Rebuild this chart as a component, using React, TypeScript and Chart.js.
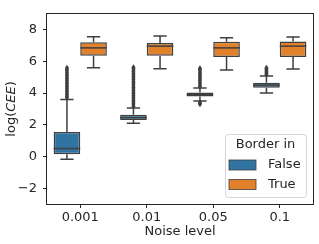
import React, { useEffect, useRef } from 'react';
import { Chart, registerables } from 'chart.js';

Chart.register(...registerables);

const categories = ['0.001', '0.01', '0.05', '0.1'];
const seriesNames = ['False', 'True'];
const seriesColors = ['#3274a1', '#e1812c'];

const falseLow = [-0.17, 2.1, 3.5, 4.0];
const falseQ1 = [0.14, 2.3, 3.78, 4.34];
const falseMedian = [0.5, 2.45, 3.9, 4.5];
const falseQ3 = [1.55, 2.63, 4.03, 4.65];
const falseHigh = [3.6, 3.05, 4.32, 5.08];
const falseOutliers = [
  [3.7, 3.8, 3.9, 4.0, 4.1, 4.2, 4.3, 4.4, 4.5, 4.6, 4.7, 4.8, 4.9, 5.0, 5.1, 5.2, 5.3, 5.4, 5.5, 5.6],
  [3.15, 3.25, 3.35, 3.45, 3.55, 3.65, 3.75, 3.85, 3.95, 4.05, 4.15, 4.25, 4.35, 4.45, 4.55, 4.65, 4.75, 4.85, 4.95, 5.05, 5.15, 5.25, 5.35, 5.45, 5.55, 5.62],
  [3.3, 3.35, 3.42, 4.4, 4.5, 4.6, 4.7, 4.8, 4.9, 5.0, 5.1, 5.2, 5.3, 5.4, 5.5, 5.56],
  [5.15, 5.22, 5.3, 5.38, 5.45, 5.52, 5.6],
];

const trueLow = [5.6, 5.53, 5.46, 5.52];
const trueQ1 = [6.36, 6.36, 6.27, 6.27];
const trueMedian = [6.85, 6.96, 6.85, 6.96];
const trueQ3 = [7.2, 7.16, 7.23, 7.25];
const trueHigh = [7.55, 7.6, 7.49, 7.53];
const trueOutliers: number[][] = [[], [], [], []];

const yTicks = [-2, 0, 2, 4, 6, 8];
const yMin = -3;
const yMax = 9;

const FONT = "'DejaVu Sans', sans-serif";
const TEXT = '#262626';
const EDGE = '#3f3f3f';

const stats = [
  { low: falseLow, q1: falseQ1, med: falseMedian, q3: falseQ3, high: falseHigh, out: falseOutliers },
  { low: trueLow, q1: trueQ1, med: trueMedian, q3: trueQ3, high: trueHigh, out: trueOutliers },
];

const boxPlugin = {
  id: 'boxExtras',
  beforeDatasetsDraw(chart: any) {
    const ctx = chart.ctx;
    const y = chart.scales.y;
    ctx.save();
    ctx.strokeStyle = EDGE;
    ctx.lineWidth = 1.5;
    stats.forEach((s, di) => {
      const meta = chart.getDatasetMeta(di);
      meta.data.forEach((el: any, i: number) => {
        const { x, width } = el.getProps(['x', 'width'], true);
        const half = width / 4;
        const yq1 = y.getPixelForValue(s.q1[i]);
        const yq3 = y.getPixelForValue(s.q3[i]);
        const yl = y.getPixelForValue(s.low[i]);
        const yh = y.getPixelForValue(s.high[i]);
        ctx.beginPath();
        ctx.moveTo(x, yq3);
        ctx.lineTo(x, yh);
        ctx.moveTo(x - half, yh);
        ctx.lineTo(x + half, yh);
        ctx.moveTo(x, yq1);
        ctx.lineTo(x, yl);
        ctx.moveTo(x - half, yl);
        ctx.lineTo(x + half, yl);
        ctx.stroke();
      });
    });
    ctx.restore();
  },
  afterDatasetsDraw(chart: any) {
    const ctx = chart.ctx;
    const y = chart.scales.y;
    ctx.save();
    stats.forEach((s, di) => {
      const meta = chart.getDatasetMeta(di);
      meta.data.forEach((el: any, i: number) => {
        const { x, width } = el.getProps(['x', 'width'], true);
        const ym = y.getPixelForValue(s.med[i]);
        ctx.strokeStyle = EDGE;
        ctx.lineWidth = 1.5;
        ctx.beginPath();
        ctx.moveTo(x - width / 2, ym);
        ctx.lineTo(x + width / 2, ym);
        ctx.stroke();
        ctx.fillStyle = EDGE;
        s.out[i].forEach((v) => {
          const py = y.getPixelForValue(v);
          ctx.beginPath();
          ctx.moveTo(x, py - 3);
          ctx.lineTo(x + 2, py);
          ctx.lineTo(x, py + 3);
          ctx.lineTo(x - 2, py);
          ctx.closePath();
          ctx.fill();
        });
      });
    });
    ctx.restore();
  },
  afterDraw(chart: any) {
    const ctx = chart.ctx;
    const a = chart.chartArea;
    ctx.save();
    // frame
    ctx.strokeStyle = TEXT;
    ctx.lineWidth = 1;
    ctx.strokeRect(Math.round(a.left) - 0.5, Math.round(a.top) - 0.5, Math.round(a.right - a.left) + 1, Math.round(a.bottom - a.top) + 1);

    // y title: log(CEE) with italic CEE
    ctx.translate(12, (a.top + a.bottom) / 2);
    ctx.rotate(-Math.PI / 2);
    ctx.fillStyle = TEXT;
    ctx.textBaseline = 'middle';
    ctx.textAlign = 'left';
    const parts = [
      { t: 'log(', f: `13px ${FONT}` },
      { t: 'CEE', f: `italic 13px ${FONT}` },
      { t: ')', f: `13px ${FONT}` },
    ];
    let total = 0;
    parts.forEach((p) => { ctx.font = p.f; total += ctx.measureText(p.t).width; });
    let cx = -total / 2;
    parts.forEach((p) => { ctx.font = p.f; ctx.fillText(p.t, cx, 0); cx += ctx.measureText(p.t).width; });
    ctx.restore();

    // legend
    ctx.save();
    const lw = 81, lh = 63;
    const lx = a.right - 7 - lw;
    const ly = a.bottom - 7 - lh;
    ctx.beginPath();
    (ctx as any).roundRect(lx + 0.5, ly + 0.5, lw, lh, 3);
    ctx.fillStyle = 'rgba(255,255,255,0.85)';
    ctx.fill();
    ctx.strokeStyle = '#d6d6d6';
    ctx.lineWidth = 1;
    ctx.stroke();
    ctx.fillStyle = TEXT;
    ctx.font = `13px ${FONT}`;
    ctx.textBaseline = 'middle';
    ctx.textAlign = 'center';
    ctx.fillText('Border in', lx + lw / 2, ly + 11);
    ctx.textAlign = 'left';
    seriesNames.forEach((name, i) => {
      const cy = ly + 31 + i * 19.5;
      ctx.fillStyle = seriesColors[i];
      ctx.fillRect(lx + 4, cy - 5, 27, 10);
      ctx.strokeStyle = EDGE;
      ctx.lineWidth = 0.8;
      ctx.strokeRect(lx + 4, cy - 5, 27, 10);
      ctx.fillStyle = TEXT;
      ctx.fillText(name, lx + 43, cy);
    });
    ctx.restore();
  },
};

export default function App() {
  const ref = useRef<HTMLCanvasElement | null>(null);
  useEffect(() => {
    if (!ref.current) return;
    const chart = new Chart(ref.current, {
      type: 'bar',
      data: {
        labels: categories,
        datasets: stats.map((s, di) => ({
          label: seriesNames[di],
          data: s.q1.map((q, i) => [q, s.q3[i]]),
          backgroundColor: seriesColors[di],
          borderColor: EDGE,
          borderWidth: 1.5,
          borderSkipped: false,
          categoryPercentage: 0.8,
          barPercentage: 1,
        })),
      },
      options: {
        responsive: false,
        animation: false,
        layout: { padding: { left: 0, top: 5, right: 6, bottom: 0 } },
        plugins: { legend: { display: false }, tooltip: { enabled: false } },
        scales: {
          x: {
            offset: true,
            grid: { display: true, drawOnChartArea: false, drawTicks: true, tickLength: 4, color: TEXT, offset: false },
            border: { display: false },
            ticks: { color: TEXT, font: { family: FONT, size: 13 }, padding: 2, maxRotation: 0 },
            title: { display: true, text: 'Noise level', color: TEXT, font: { family: FONT, size: 13 }, padding: { top: 0, bottom: 5 } },
            afterFit: (s: any) => { s.height = 40; },
          },
          y: {
            min: yMin,
            max: yMax,
            grid: { display: true, drawOnChartArea: false, drawTicks: true, tickLength: 4, color: TEXT },
            border: { display: false },
            ticks: {
              color: TEXT,
              font: { family: FONT, size: 13 },
              padding: 6,
              callback: (v: any) => (Number(v) < 0 ? '\u2212' + Math.abs(Number(v)) : String(v)),
            },
            afterBuildTicks: (s: any) => { s.ticks = yTicks.map((v) => ({ value: v })); },
            afterFit: (s: any) => { s.width = 47; },
          },
        },
      },
      plugins: [boxPlugin],
    } as any);
    return () => chart.destroy();
  }, []);
  return (
    <div style={{ position: 'absolute', left: 0, top: 0, width: 319, height: 244, background: '#fff' }}>
      <canvas ref={ref} width={319} height={244} style={{ display: 'block' }} />
    </div>
  );
}
